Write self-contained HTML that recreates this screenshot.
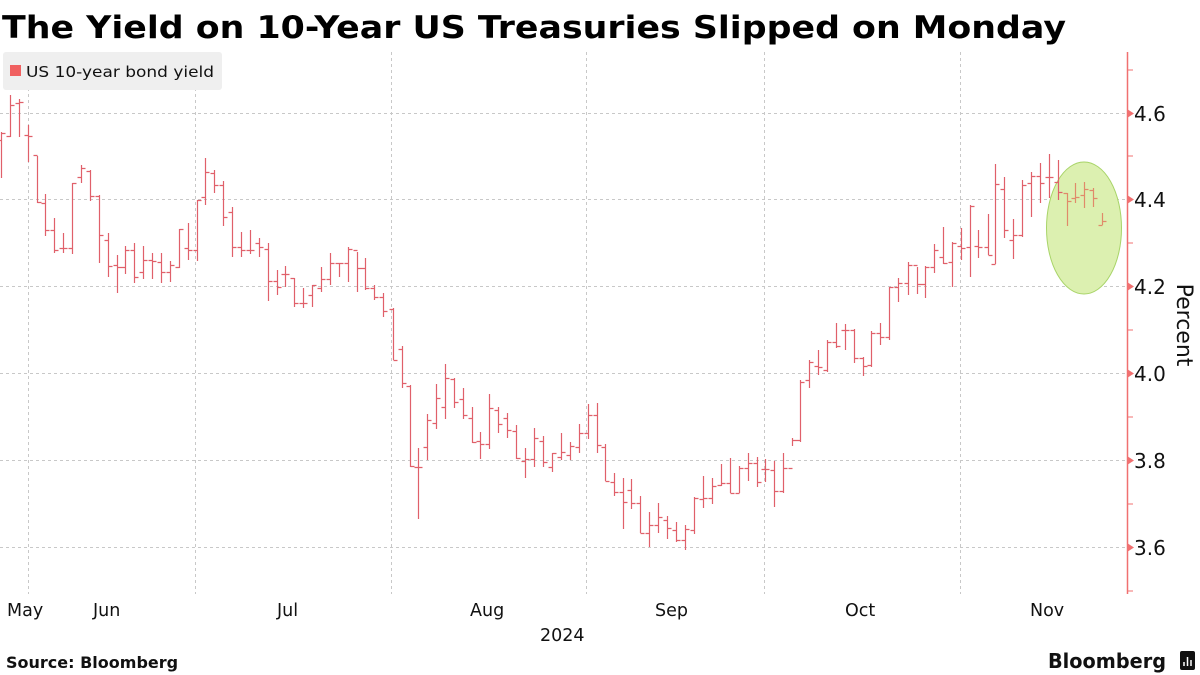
<!DOCTYPE html>
<html><head><meta charset="utf-8"><style>
html,body{margin:0;padding:0;background:#fff;}
svg{display:block;}
text{font-family:"DejaVu Sans","Liberation Sans",sans-serif;}
</style></head><body>
<svg id="s" width="1200" height="675" viewBox="0 0 1200 675" xmlns="http://www.w3.org/2000/svg">
<text x="2" y="38" font-size="31" font-weight="bold" fill="#000" textLength="1064" lengthAdjust="spacingAndGlyphs">The Yield on 10-Year US Treasuries Slipped on Monday</text>
<g stroke="#c8c8c8" stroke-width="1" stroke-dasharray="3,3">
<line x1="0" y1="113.5" x2="1127" y2="113.5"/>
<line x1="0" y1="199.5" x2="1127" y2="199.5"/>
<line x1="0" y1="286.5" x2="1127" y2="286.5"/>
<line x1="0" y1="373.5" x2="1127" y2="373.5"/>
<line x1="0" y1="460.5" x2="1127" y2="460.5"/>
<line x1="0" y1="547.5" x2="1127" y2="547.5"/>
<line x1="28.5" y1="52" x2="28.5" y2="594"/>
<line x1="195.5" y1="52" x2="195.5" y2="594"/>
<line x1="391.5" y1="52" x2="391.5" y2="594"/>
<line x1="586.5" y1="52" x2="586.5" y2="594"/>
<line x1="764.5" y1="52" x2="764.5" y2="594"/>
<line x1="960.5" y1="52" x2="960.5" y2="594"/>
</g>
<rect x="3" y="52" width="219" height="38" rx="3" fill="#efefef"/>
<rect x="10" y="65" width="11" height="11" fill="#f06060"/>
<text x="26" y="77" font-size="15.5" fill="#111" textLength="188" lengthAdjust="spacingAndGlyphs">US 10-year bond yield</text>
<ellipse cx="1084" cy="228" rx="37.5" ry="66" fill="#dcf0b0" stroke="#a8d468" stroke-width="1"/>
<g id="bars" stroke="#e0606a" stroke-width="1.2" fill="none"></g>
<g id="bars2" stroke="#e08a6a" stroke-width="1.2" fill="none"></g>
<line x1="1127.5" y1="52" x2="1127.5" y2="594" stroke="#f07070" stroke-width="1.5"/>
<g stroke="#f07070" stroke-width="1">
<line x1="1127" y1="70" x2="1133" y2="70"/><line x1="1127" y1="156" x2="1133" y2="156"/>
<line x1="1127" y1="243" x2="1133" y2="243"/><line x1="1127" y1="330" x2="1133" y2="330"/>
<line x1="1127" y1="417" x2="1133" y2="417"/><line x1="1127" y1="504" x2="1133" y2="504"/>
<line x1="1127" y1="591" x2="1133" y2="591"/>
</g>
<g fill="#f07070">
<polygon points="1127,109 1134,113.5 1127,118"/><polygon points="1127,195 1134,199.5 1127,204"/>
<polygon points="1127,282 1134,286.5 1127,291"/><polygon points="1127,369 1134,373.5 1127,378"/>
<polygon points="1127,456 1134,460.5 1127,465"/><polygon points="1127,543 1134,547.5 1127,552"/>
</g>
<g font-size="20" fill="#111">
<text x="1134" y="121">4.6</text><text x="1134" y="207">4.4</text><text x="1134" y="294">4.2</text>
<text x="1134" y="381">4.0</text><text x="1134" y="468">3.8</text><text x="1134" y="555">3.6</text>
</g>
<text transform="translate(1177,325) rotate(90)" font-size="22" fill="#111" text-anchor="middle">Percent</text>
<g font-size="17.5" fill="#111">
<text x="7" y="616">May</text><text x="93" y="616">Jun</text><text x="277" y="616">Jul</text>
<text x="470" y="616">Aug</text><text x="655" y="616">Sep</text><text x="845" y="616">Oct</text>
<text x="1030" y="616">Nov</text><text x="540" y="641">2024</text>
</g>
<text x="6" y="668" font-size="16" font-weight="bold" fill="#111">Source: Bloomberg</text>
<text x="1048" y="668" font-size="20" font-weight="bold" fill="#111" textLength="118" lengthAdjust="spacingAndGlyphs">Bloomberg</text>
<rect x="1180" y="651" width="15" height="19" rx="2" fill="#111"/>
<g stroke="#fff" stroke-width="1.5"><line x1="1184" y1="666" x2="1184" y2="662"/><line x1="1187.5" y1="666" x2="1187.5" y2="657"/><line x1="1191" y1="666" x2="1191" y2="660"/></g>
</svg>
<script>
var d=[[0,132,178,140,133],[9,95,137,136,105],[18,99,137,103,102],[27,125,162,135,136],[36,156,203,155,202],[44,194,236,203,230],[53,218,253,230,250],[62,233,253,248,248],[71,183,254,248,183],[80,165,183,177,168],[89,170,201,171,196],[98,195,263,196,235],[107,233,277,240,266],[116,255,293,265,267],[124,246,274,267,250],[133,243,283,250,277],[142,246,279,272,260],[151,253,279,260,261],[160,253,283,262,272],[169,261,282,272,265],[178,229,268,267,229],[187,223,260,248,250],[196,200,261,250,200],[204,158,205,197,172],[213,170,193,173,185],[222,181,226,185,217],[231,207,257,212,247],[240,232,257,247,250],[249,230,254,250,250],[258,238,257,243,247],[267,243,301,249,281],[276,270,295,281,287],[284,266,287,274,274],[293,278,307,278,303],[302,288,308,303,303],[311,285,307,295,285],[320,267,292,288,279],[329,253,285,279,263],[338,263,277,263,263],[347,247,282,263,249],[356,252,292,250,268],[364,258,290,268,288],[373,285,300,288,297],[382,293,317,297,311],[392,308,360,309,360],[401,346,388,349,383],[409,385,467,386,466],[417,448,519,467,467],[426,414,460,447,420],[435,384,429,423,398],[444,364,419,407,378],[453,378,408,379,402],[462,388,419,399,415],[471,407,443,418,442],[479,432,459,441,444],[488,394,449,444,408],[497,407,433,410,424],[506,413,438,418,430],[515,425,459,431,458],[524,448,478,461,459],[533,428,467,459,438],[542,436,467,441,462],[551,453,472,467,453],[560,433,460,457,452],[569,442,460,455,446],[578,424,453,447,433],[587,404,439,433,415],[596,403,453,415,445],[604,444,481,447,481],[613,473,496,482,492],[622,478,529,492,502],[630,479,509,490,503],[639,496,533,503,533],[648,512,547,533,525],[657,503,533,525,517],[666,516,539,520,528],[675,522,542,530,540],[684,525,550,540,529],[693,497,534,530,498],[702,476,508,499,498],[711,478,504,498,486],[720,464,486,485,483],[729,458,493,483,493],[738,466,493,493,468],[747,453,481,468,463],[756,457,487,463,482],[764,459,482,469,469],[773,461,507,470,491],[782,453,493,491,468],[791,438,446,468,440],[799,380,442,440,382],[808,360,388,380,362],[817,350,375,366,367],[826,340,372,370,342],[835,323,348,342,346],[844,324,350,330,330],[853,329,363,330,358],[862,357,376,358,366],[870,331,367,365,333],[879,323,345,333,337],[888,287,340,337,287],[897,278,302,287,283],[907,262,295,283,265],[916,267,294,265,284],[924,266,298,284,267],[933,244,273,267,250],[942,227,264,257,263],[951,242,287,262,243],[960,228,260,246,248],[969,205,277,247,206],[977,230,258,246,247],[987,214,255,247,255],[994,164,264,264,184],[1003,177,238,189,230],[1012,219,259,240,235],[1021,180,237,235,185],[1030,172,217,183,176],[1039,163,203,176,183],[1048,154,198,177,177],[1057,160,200,182,192]];
var e=[[1066,193,226,193,201],[1074,183,203,198,197],[1083,182,208,195,189],[1092,188,207,190,198],[1101,213,225,225,221]];
function build(arr){var p="";arr.forEach(function(b){var x=b[0]+1.5;p+="M"+x+" "+b[1]+"V"+b[2]+"M"+(x-4)+" "+(b[3]+.5)+"H"+x+"M"+x+" "+(b[4]+.5)+"H"+(x+4);});return p;}
var ns="http://www.w3.org/2000/svg";
var p1=document.createElementNS(ns,"path");p1.setAttribute("d",build(d));document.getElementById("bars").appendChild(p1);
var p2=document.createElementNS(ns,"path");p2.setAttribute("d",build(e));document.getElementById("bars2").appendChild(p2);
</script>
</body></html>
